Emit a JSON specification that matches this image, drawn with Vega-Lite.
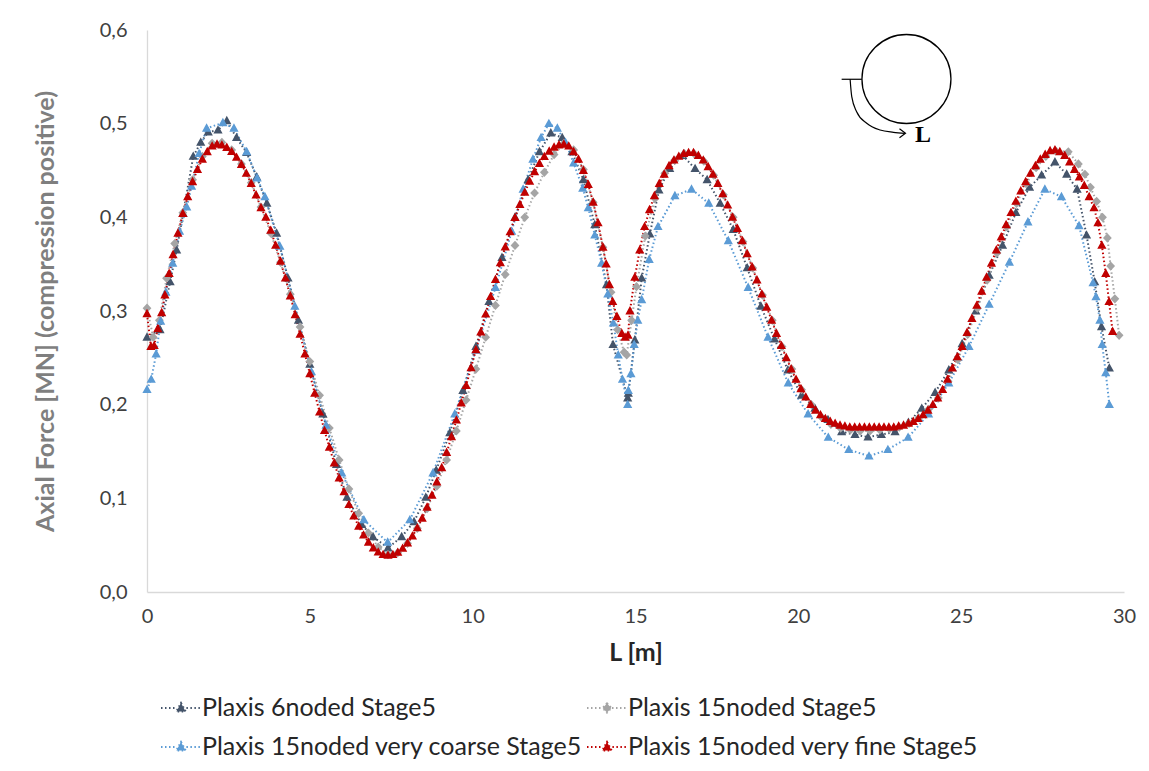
{
"$schema": "https://vega.github.io/schema/vega-lite/v6.json",
"width": 977, "height": 562,
"autosize": {"type": "none"},
"padding": {"left": 147, "top": 30, "right": 25, "bottom": 179},
"background": "white",
"config": {"view": {"stroke": null}, "font": "Lato"},
"datasets": {
"pts": [
{"s":"A","L":0,"v":0.272},{"s":"A","L":0.4,"v":0.28},{"s":"A","L":0.71,"v":0.331},{"s":"A","L":0.91,"v":0.365},{"s":"A","L":1.11,"v":0.404},{"s":"A","L":1.42,"v":0.465},{"s":"A","L":1.65,"v":0.48},{"s":"A","L":1.88,"v":0.491},{"s":"A","L":2.18,"v":0.493},{"s":"A","L":2.45,"v":0.503},{"s":"A","L":2.75,"v":0.485},{"s":"A","L":3.06,"v":0.469},{"s":"A","L":3.37,"v":0.443},{"s":"A","L":3.68,"v":0.415},{"s":"A","L":3.98,"v":0.383},{"s":"A","L":4.33,"v":0.335},{"s":"A","L":4.65,"v":0.29},{"s":"A","L":5.0,"v":0.243},{"s":"A","L":5.4,"v":0.19},{"s":"A","L":5.82,"v":0.136},{"s":"A","L":6.14,"v":0.101},{"s":"A","L":6.59,"v":0.072},{"s":"A","L":6.94,"v":0.059},{"s":"A","L":7.4,"v":0.047},{"s":"A","L":7.82,"v":0.059},{"s":"A","L":8.2,"v":0.075},{"s":"A","L":8.56,"v":0.101},{"s":"A","L":8.88,"v":0.13},{"s":"A","L":9.3,"v":0.17},{"s":"A","L":9.7,"v":0.215},{"s":"A","L":10.1,"v":0.262},{"s":"A","L":10.5,"v":0.31},{"s":"A","L":10.9,"v":0.357},{"s":"A","L":11.3,"v":0.4},{"s":"A","L":11.7,"v":0.44},{"s":"A","L":12.05,"v":0.47},{"s":"A","L":12.4,"v":0.49},{"s":"A","L":12.75,"v":0.485},{"s":"A","L":13.05,"v":0.47},{"s":"A","L":13.4,"v":0.44},{"s":"A","L":13.75,"v":0.392},{"s":"A","L":14.11,"v":0.328},{"s":"A","L":14.31,"v":0.264},{"s":"A","L":14.76,"v":0.207},{"s":"A","L":14.78,"v":0.212},{"s":"A","L":14.98,"v":0.269},{"s":"A","L":15.19,"v":0.335},{"s":"A","L":15.44,"v":0.382},{"s":"A","L":15.72,"v":0.429},{"s":"A","L":16.05,"v":0.452},{"s":"A","L":16.45,"v":0.466},{"s":"A","L":16.83,"v":0.452},{"s":"A","L":17.2,"v":0.44},{"s":"A","L":17.6,"v":0.415},{"s":"A","L":18.0,"v":0.387},{"s":"A","L":18.43,"v":0.346},{"s":"A","L":18.85,"v":0.305},{"s":"A","L":19.27,"v":0.27},{"s":"A","L":19.68,"v":0.237},{"s":"A","L":20.1,"v":0.21},{"s":"A","L":20.51,"v":0.196},{"s":"A","L":20.91,"v":0.184},{"s":"A","L":21.33,"v":0.171},{"s":"A","L":21.74,"v":0.168},{"s":"A","L":22.14,"v":0.1655},{"s":"A","L":22.55,"v":0.168},{"s":"A","L":22.97,"v":0.171},{"s":"A","L":23.38,"v":0.181},{"s":"A","L":23.79,"v":0.196},{"s":"A","L":24.2,"v":0.213},{"s":"A","L":24.62,"v":0.237},{"s":"A","L":25.03,"v":0.265},{"s":"A","L":25.45,"v":0.3},{"s":"A","L":25.86,"v":0.338},{"s":"A","L":26.27,"v":0.37},{"s":"A","L":26.68,"v":0.405},{"s":"A","L":27.1,"v":0.432},{"s":"A","L":27.47,"v":0.445},{"s":"A","L":27.88,"v":0.459},{"s":"A","L":28.24,"v":0.446},{"s":"A","L":28.56,"v":0.43},{"s":"A","L":28.85,"v":0.381},{"s":"A","L":29.1,"v":0.331},{"s":"A","L":29.31,"v":0.283},{"s":"A","L":29.55,"v":0.239},
{"s":"B","L":0,"v":0.303},{"s":"B","L":0.19,"v":0.272},{"s":"B","L":0.38,"v":0.29},{"s":"B","L":0.6,"v":0.335},{"s":"B","L":0.85,"v":0.372},{"s":"B","L":1.1,"v":0.405},{"s":"B","L":1.4,"v":0.44},{"s":"B","L":1.7,"v":0.465},{"s":"B","L":2.0,"v":0.479},{"s":"B","L":2.3,"v":0.48},{"s":"B","L":2.6,"v":0.472},{"s":"B","L":2.9,"v":0.457},{"s":"B","L":3.2,"v":0.437},{"s":"B","L":3.5,"v":0.411},{"s":"B","L":3.8,"v":0.383},{"s":"B","L":4.1,"v":0.352},{"s":"B","L":4.4,"v":0.318},{"s":"B","L":4.7,"v":0.283},{"s":"B","L":5.0,"v":0.246},{"s":"B","L":5.3,"v":0.21},{"s":"B","L":5.6,"v":0.175},{"s":"B","L":5.9,"v":0.141},{"s":"B","L":6.2,"v":0.11},{"s":"B","L":6.5,"v":0.084},{"s":"B","L":6.8,"v":0.063},{"s":"B","L":7.1,"v":0.048},{"s":"B","L":7.4,"v":0.04},{"s":"B","L":7.7,"v":0.042},{"s":"B","L":8.0,"v":0.052},{"s":"B","L":8.3,"v":0.068},{"s":"B","L":8.6,"v":0.089},{"s":"B","L":8.9,"v":0.113},{"s":"B","L":9.2,"v":0.141},{"s":"B","L":9.5,"v":0.172},{"s":"B","L":9.8,"v":0.205},{"s":"B","L":10.1,"v":0.238},{"s":"B","L":10.4,"v":0.272},{"s":"B","L":10.7,"v":0.306},{"s":"B","L":11.0,"v":0.339},{"s":"B","L":11.3,"v":0.37},{"s":"B","L":11.6,"v":0.4},{"s":"B","L":11.9,"v":0.426},{"s":"B","L":12.2,"v":0.448},{"s":"B","L":12.5,"v":0.467},{"s":"B","L":12.8,"v":0.479},{"s":"B","L":13.1,"v":0.472},{"s":"B","L":13.4,"v":0.451},{"s":"B","L":13.7,"v":0.416},{"s":"B","L":14.0,"v":0.368},{"s":"B","L":14.25,"v":0.32},{"s":"B","L":14.45,"v":0.28},{"s":"B","L":14.65,"v":0.256},{"s":"B","L":14.73,"v":0.253},{"s":"B","L":14.88,"v":0.29},{"s":"B","L":15.03,"v":0.326},{"s":"B","L":15.3,"v":0.38},{"s":"B","L":15.6,"v":0.42},{"s":"B","L":15.9,"v":0.447},{"s":"B","L":16.2,"v":0.461},{"s":"B","L":16.5,"v":0.468},{"s":"B","L":16.8,"v":0.468},{"s":"B","L":17.1,"v":0.46},{"s":"B","L":17.4,"v":0.445},{"s":"B","L":17.7,"v":0.424},{"s":"B","L":18.0,"v":0.4},{"s":"B","L":18.3,"v":0.374},{"s":"B","L":18.6,"v":0.346},{"s":"B","L":18.9,"v":0.317},{"s":"B","L":19.2,"v":0.29},{"s":"B","L":19.5,"v":0.262},{"s":"B","L":19.8,"v":0.238},{"s":"B","L":20.1,"v":0.216},{"s":"B","L":20.4,"v":0.2},{"s":"B","L":20.7,"v":0.187},{"s":"B","L":21.0,"v":0.179},{"s":"B","L":21.3,"v":0.175},{"s":"B","L":21.6,"v":0.173},{"s":"B","L":21.9,"v":0.172},{"s":"B","L":22.2,"v":0.172},{"s":"B","L":22.5,"v":0.173},{"s":"B","L":22.8,"v":0.174},{"s":"B","L":23.1,"v":0.176},{"s":"B","L":23.4,"v":0.18},{"s":"B","L":23.7,"v":0.186},{"s":"B","L":24.0,"v":0.195},{"s":"B","L":24.3,"v":0.207},{"s":"B","L":24.6,"v":0.225},{"s":"B","L":24.9,"v":0.248},{"s":"B","L":25.2,"v":0.275},{"s":"B","L":25.5,"v":0.303},{"s":"B","L":25.8,"v":0.333},{"s":"B","L":26.1,"v":0.362},{"s":"B","L":26.4,"v":0.39},{"s":"B","L":26.7,"v":0.415},{"s":"B","L":27.0,"v":0.436},{"s":"B","L":27.3,"v":0.453},{"s":"B","L":27.6,"v":0.465},{"s":"B","L":27.9,"v":0.471},{"s":"B","L":28.29,"v":0.47},{"s":"B","L":28.6,"v":0.457},{"s":"B","L":28.8,"v":0.446},{"s":"B","L":28.97,"v":0.432},{"s":"B","L":29.16,"v":0.417},{"s":"B","L":29.34,"v":0.4},{"s":"B","L":29.49,"v":0.378},{"s":"B","L":29.59,"v":0.348},{"s":"B","L":29.72,"v":0.313},{"s":"B","L":29.85,"v":0.274},
{"s":"C","L":0,"v":0.216},{"s":"C","L":0.13,"v":0.227},{"s":"C","L":0.28,"v":0.254},{"s":"C","L":0.42,"v":0.289},{"s":"C","L":0.58,"v":0.32},{"s":"C","L":0.79,"v":0.351},{"s":"C","L":1.0,"v":0.385},{"s":"C","L":1.22,"v":0.411},{"s":"C","L":1.37,"v":0.433},{"s":"C","L":1.6,"v":0.468},{"s":"C","L":1.83,"v":0.495},{"s":"C","L":2.33,"v":0.501},{"s":"C","L":2.67,"v":0.495},{"s":"C","L":3.06,"v":0.47},{"s":"C","L":3.38,"v":0.442},{"s":"C","L":3.62,"v":0.422},{"s":"C","L":4.08,"v":0.369},{"s":"C","L":4.54,"v":0.305},{"s":"C","L":5.05,"v":0.235},{"s":"C","L":5.5,"v":0.178},{"s":"C","L":5.98,"v":0.127},{"s":"C","L":6.66,"v":0.077},{"s":"C","L":7.39,"v":0.053},{"s":"C","L":8.07,"v":0.077},{"s":"C","L":8.78,"v":0.127},{"s":"C","L":9.45,"v":0.19},{"s":"C","L":10.1,"v":0.258},{"s":"C","L":10.7,"v":0.325},{"s":"C","L":11.2,"v":0.385},{"s":"C","L":11.55,"v":0.43},{"s":"C","L":11.85,"v":0.462},{"s":"C","L":12.1,"v":0.485},{"s":"C","L":12.34,"v":0.5},{"s":"C","L":12.6,"v":0.495},{"s":"C","L":12.85,"v":0.48},{"s":"C","L":13.1,"v":0.458},{"s":"C","L":13.38,"v":0.431},{"s":"C","L":13.55,"v":0.41},{"s":"C","L":13.75,"v":0.381},{"s":"C","L":13.96,"v":0.351},{"s":"C","L":14.15,"v":0.318},{"s":"C","L":14.32,"v":0.287},{"s":"C","L":14.47,"v":0.253},{"s":"C","L":14.6,"v":0.227},{"s":"C","L":14.76,"v":0.2},{"s":"C","L":14.78,"v":0.215},{"s":"C","L":14.86,"v":0.233},{"s":"C","L":14.96,"v":0.264},{"s":"C","L":15.07,"v":0.29},{"s":"C","L":15.19,"v":0.312},{"s":"C","L":15.42,"v":0.355},{"s":"C","L":15.69,"v":0.39},{"s":"C","L":16.21,"v":0.423},{"s":"C","L":16.72,"v":0.43},{"s":"C","L":17.25,"v":0.415},{"s":"C","L":17.85,"v":0.375},{"s":"C","L":18.46,"v":0.325},{"s":"C","L":19.07,"v":0.272},{"s":"C","L":19.69,"v":0.223},{"s":"C","L":20.3,"v":0.19},{"s":"C","L":20.92,"v":0.165},{"s":"C","L":21.55,"v":0.152},{"s":"C","L":22.17,"v":0.145},{"s":"C","L":22.75,"v":0.152},{"s":"C","L":23.37,"v":0.165},{"s":"C","L":24.0,"v":0.19},{"s":"C","L":24.62,"v":0.223},{"s":"C","L":25.24,"v":0.262},{"s":"C","L":25.86,"v":0.307},{"s":"C","L":26.48,"v":0.352},{"s":"C","L":27.05,"v":0.395},{"s":"C","L":27.57,"v":0.43},{"s":"C","L":28.08,"v":0.422},{"s":"C","L":28.62,"v":0.391},{"s":"C","L":29.05,"v":0.33},{"s":"C","L":29.14,"v":0.315},{"s":"C","L":29.26,"v":0.29},{"s":"C","L":29.33,"v":0.264},{"s":"C","L":29.44,"v":0.234},{"s":"C","L":29.55,"v":0.2},
{"s":"D","L":0,"v":0.297},{"s":"D","L":0.12,"v":0.262},{"s":"D","L":0.22,"v":0.263},{"s":"D","L":0.33,"v":0.281},{"s":"D","L":0.45,"v":0.298},{"s":"D","L":0.55,"v":0.317},{"s":"D","L":0.68,"v":0.34},{"s":"D","L":0.8,"v":0.36},{"s":"D","L":0.95,"v":0.383},{"s":"D","L":1.1,"v":0.404},{"s":"D","L":1.25,"v":0.422},{"s":"D","L":1.4,"v":0.438},{"s":"D","L":1.55,"v":0.451},{"s":"D","L":1.7,"v":0.462},{"s":"D","L":1.85,"v":0.47},{"s":"D","L":2.0,"v":0.476},{"s":"D","L":2.15,"v":0.478},{"s":"D","L":2.3,"v":0.477},{"s":"D","L":2.45,"v":0.4745},{"s":"D","L":2.6,"v":0.4701},{"s":"D","L":2.75,"v":0.464},{"s":"D","L":2.9,"v":0.4563},{"s":"D","L":3.05,"v":0.4469},{"s":"D","L":3.2,"v":0.4361},{"s":"D","L":3.35,"v":0.4238},{"s":"D","L":3.5,"v":0.4102},{"s":"D","L":3.65,"v":0.4},{"s":"D","L":3.8,"v":0.386},{"s":"D","L":3.95,"v":0.37},{"s":"D","L":4.1,"v":0.353},{"s":"D","L":4.25,"v":0.335},{"s":"D","L":4.4,"v":0.316},{"s":"D","L":4.55,"v":0.296},{"s":"D","L":4.7,"v":0.275},{"s":"D","L":4.85,"v":0.254},{"s":"D","L":5.0,"v":0.233},{"s":"D","L":5.15,"v":0.212},{"s":"D","L":5.3,"v":0.192},{"s":"D","L":5.45,"v":0.1722},{"s":"D","L":5.6,"v":0.1545},{"s":"D","L":5.75,"v":0.1376},{"s":"D","L":5.9,"v":0.1216},{"s":"D","L":6.05,"v":0.1068},{"s":"D","L":6.2,"v":0.0932},{"s":"D","L":6.35,"v":0.0809},{"s":"D","L":6.5,"v":0.0701},{"s":"D","L":6.65,"v":0.0607},{"s":"D","L":6.8,"v":0.053},{"s":"D","L":6.95,"v":0.0469},{"s":"D","L":7.1,"v":0.0425},{"s":"D","L":7.25,"v":0.0399},{"s":"D","L":7.4,"v":0.039},{"s":"D","L":7.55,"v":0.0398},{"s":"D","L":7.7,"v":0.0423},{"s":"D","L":7.85,"v":0.0465},{"s":"D","L":8.0,"v":0.0522},{"s":"D","L":8.15,"v":0.0596},{"s":"D","L":8.3,"v":0.0684},{"s":"D","L":8.45,"v":0.0787},{"s":"D","L":8.6,"v":0.0904},{"s":"D","L":8.75,"v":0.1033},{"s":"D","L":8.9,"v":0.1174},{"s":"D","L":9.05,"v":0.1326},{"s":"D","L":9.2,"v":0.1488},{"s":"D","L":9.35,"v":0.1657},{"s":"D","L":9.5,"v":0.1834},{"s":"D","L":9.65,"v":0.2017},{"s":"D","L":9.8,"v":0.2204},{"s":"D","L":9.95,"v":0.2394},{"s":"D","L":10.1,"v":0.2585},{"s":"D","L":10.25,"v":0.2776},{"s":"D","L":10.4,"v":0.2966},{"s":"D","L":10.55,"v":0.3153},{"s":"D","L":10.7,"v":0.3336},{"s":"D","L":10.85,"v":0.3513},{"s":"D","L":11.0,"v":0.3683},{"s":"D","L":11.15,"v":0.3844},{"s":"D","L":11.3,"v":0.3996},{"s":"D","L":11.45,"v":0.4137},{"s":"D","L":11.6,"v":0.4266},{"s":"D","L":11.75,"v":0.4383},{"s":"D","L":11.9,"v":0.4486},{"s":"D","L":12.05,"v":0.4574},{"s":"D","L":12.2,"v":0.4648},{"s":"D","L":12.35,"v":0.4705},{"s":"D","L":12.5,"v":0.4747},{"s":"D","L":12.65,"v":0.4772},{"s":"D","L":12.8,"v":0.478},{"s":"D","L":12.95,"v":0.476},{"s":"D","L":13.1,"v":0.47},{"s":"D","L":13.25,"v":0.462},{"s":"D","L":13.4,"v":0.45},{"s":"D","L":13.55,"v":0.435},{"s":"D","L":13.7,"v":0.416},{"s":"D","L":13.85,"v":0.394},{"s":"D","L":14.0,"v":0.368},{"s":"D","L":14.1,"v":0.35},{"s":"D","L":14.2,"v":0.328},{"s":"D","L":14.3,"v":0.31},{"s":"D","L":14.43,"v":0.294},{"s":"D","L":14.58,"v":0.276},{"s":"D","L":14.68,"v":0.272},{"s":"D","L":14.77,"v":0.274},{"s":"D","L":14.83,"v":0.3},{"s":"D","L":14.98,"v":0.336},{"s":"D","L":15.13,"v":0.365},{"s":"D","L":15.28,"v":0.39},{"s":"D","L":15.43,"v":0.408},{"s":"D","L":15.58,"v":0.423},{"s":"D","L":15.73,"v":0.436},{"s":"D","L":15.88,"v":0.446},{"s":"D","L":16.03,"v":0.455},{"s":"D","L":16.18,"v":0.461},{"s":"D","L":16.33,"v":0.465},{"s":"D","L":16.48,"v":0.468},{"s":"D","L":16.63,"v":0.469},{"s":"D","L":16.78,"v":0.469},{"s":"D","L":16.93,"v":0.466},{"s":"D","L":17.08,"v":0.461},{"s":"D","L":17.23,"v":0.454},{"s":"D","L":17.38,"v":0.446},{"s":"D","L":17.53,"v":0.436},{"s":"D","L":17.68,"v":0.425},{"s":"D","L":17.83,"v":0.413},{"s":"D","L":17.98,"v":0.4},{"s":"D","L":18.13,"v":0.388},{"s":"D","L":18.28,"v":0.375},{"s":"D","L":18.43,"v":0.361},{"s":"D","L":18.58,"v":0.347},{"s":"D","L":18.73,"v":0.333},{"s":"D","L":18.88,"v":0.318},{"s":"D","L":19.03,"v":0.304},{"s":"D","L":19.18,"v":0.29},{"s":"D","L":19.33,"v":0.276},{"s":"D","L":19.48,"v":0.263},{"s":"D","L":19.63,"v":0.25},{"s":"D","L":19.78,"v":0.238},{"s":"D","L":19.93,"v":0.227},{"s":"D","L":20.08,"v":0.217},{"s":"D","L":20.23,"v":0.208},{"s":"D","L":20.38,"v":0.2},{"s":"D","L":20.53,"v":0.194},{"s":"D","L":20.68,"v":0.189},{"s":"D","L":20.83,"v":0.185},{"s":"D","L":20.98,"v":0.182},{"s":"D","L":21.13,"v":0.18},{"s":"D","L":21.28,"v":0.178},{"s":"D","L":21.43,"v":0.177},{"s":"D","L":21.58,"v":0.176},{"s":"D","L":21.73,"v":0.176},{"s":"D","L":21.88,"v":0.176},{"s":"D","L":22.03,"v":0.176},{"s":"D","L":22.18,"v":0.176},{"s":"D","L":22.33,"v":0.176},{"s":"D","L":22.48,"v":0.176},{"s":"D","L":22.63,"v":0.176},{"s":"D","L":22.78,"v":0.176},{"s":"D","L":22.93,"v":0.176},{"s":"D","L":23.08,"v":0.177},{"s":"D","L":23.23,"v":0.178},{"s":"D","L":23.38,"v":0.18},{"s":"D","L":23.53,"v":0.182},{"s":"D","L":23.68,"v":0.185},{"s":"D","L":23.83,"v":0.189},{"s":"D","L":23.98,"v":0.194},{"s":"D","L":24.13,"v":0.2},{"s":"D","L":24.28,"v":0.207},{"s":"D","L":24.43,"v":0.216},{"s":"D","L":24.58,"v":0.227},{"s":"D","L":24.73,"v":0.239},{"s":"D","L":24.88,"v":0.251},{"s":"D","L":25.03,"v":0.262},{"s":"D","L":25.18,"v":0.277},{"s":"D","L":25.33,"v":0.292},{"s":"D","L":25.48,"v":0.306},{"s":"D","L":25.63,"v":0.321},{"s":"D","L":25.78,"v":0.336},{"s":"D","L":25.93,"v":0.351},{"s":"D","L":26.08,"v":0.365},{"s":"D","L":26.23,"v":0.379},{"s":"D","L":26.38,"v":0.392},{"s":"D","L":26.53,"v":0.405},{"s":"D","L":26.68,"v":0.417},{"s":"D","L":26.83,"v":0.428},{"s":"D","L":26.98,"v":0.438},{"s":"D","L":27.13,"v":0.447},{"s":"D","L":27.28,"v":0.455},{"s":"D","L":27.43,"v":0.462},{"s":"D","L":27.58,"v":0.467},{"s":"D","L":27.73,"v":0.471},{"s":"D","L":27.88,"v":0.472},{"s":"D","L":28.03,"v":0.47},{"s":"D","L":28.18,"v":0.466},{"s":"D","L":28.33,"v":0.459},{"s":"D","L":28.48,"v":0.451},{"s":"D","L":28.63,"v":0.443},{"s":"D","L":28.78,"v":0.434},{"s":"D","L":28.93,"v":0.422},{"s":"D","L":29.08,"v":0.41},{"s":"D","L":29.2,"v":0.394},{"s":"D","L":29.32,"v":0.37},{"s":"D","L":29.44,"v":0.34},{"s":"D","L":29.54,"v":0.31},{"s":"D","L":29.65,"v":0.278}
]
},
"layer": [
{
"data": {"name": "pts"},
"mark": {"type": "line", "strokeWidth": 2, "strokeDash": [1.5, 2.5]},
"encoding": {
"x": {"field": "L", "type": "quantitative", "scale": {"domain": [0, 30], "nice": false, "zero": false},
 "axis": {"values": [0, 5, 10, 15, 20, 25, 30], "grid": false, "ticks": false, "domainColor": "#D9D9D9", "domainWidth": 1.3, "labelFont": "Lato", "labelFontSize": 20, "labelColor": "#404040", "labelPadding": 14, "labelFlush": false, "title": "L [m]", "titleFont": "Lato", "titleFontSize": 25, "titleFontWeight": "bold", "titleColor": "#262626", "titleX": 488.5, "titleY": 60, "titleBaseline": "middle"}},
"y": {"field": "v", "type": "quantitative", "scale": {"domain": [0, 0.6], "nice": false},
 "axis": {"values": [0, 0.1, 0.2, 0.3, 0.4, 0.5, 0.6], "labelExpr": "replace(format(datum.value, '.1f'), '.', ',')", "grid": false, "ticks": false, "domainColor": "#D9D9D9", "domainWidth": 1.3, "labelFont": "Lato", "labelFontSize": 20, "labelColor": "#404040", "labelPadding": 20, "labelFlush": false, "title": "Axial Force [MN] (compression positive)", "titleFont": "Lato", "titleFontSize": 25, "titleFontWeight": "bold", "titleColor": "#7F7F7F", "titleAngle": 270, "titleX": -102, "titleY": 281, "titleBaseline": "middle", "titleAlign": "center"}},
"color": {"field": "s", "type": "nominal",
 "scale": {"domain": ["A", "B", "C", "D"], "range": ["#44546A", "#A5A5A5", "#5B9BD5", "#C00000"]},
 "legend": {"orient": "none", "legendX": 13, "legendY": 657, "direction": "horizontal", "columns": 2, "title": null,
  "labelExpr": "{'A': 'Plaxis 6noded Stage5', 'B': 'Plaxis 15noded Stage5', 'C': 'Plaxis 15noded very coarse Stage5', 'D': 'Plaxis 15noded very fine Stage5'}[datum.value]",
  "labelFont": "Lato", "labelFontSize": 25, "labelColor": "#262626", "labelLimit": 600, "symbolSize": 1600, "labelOffset": 0, "rowPadding": 5, "columnPadding": 0, "padding": 0,
  "symbolStrokeWidth": 2, "symbolDash": [1.5, 2.5], "symbolOpacity": 1}
}
}
},
{
"data": {"name": "pts"},
"mark": {"type": "point", "filled": true, "opacity": 1, "size": 1600, "strokeWidth": 0},
"encoding": {
"x": {"field": "L", "type": "quantitative"},
"y": {"field": "v", "type": "quantitative"},
"color": {"field": "s", "type": "nominal"},
"shape": {"field": "s", "type": "nominal", "scale": {"domain": ["A", "B", "C", "D"], "range": ["M-1,0L-0.27,0M0.27,0L1,0M0,-0.25L0.23,0.17L-0.23,0.17Z", "M-1,0L-0.25,0M0.25,0L1,0M0,-0.23L0.22,0L0,0.23L-0.22,0Z", "M-1,0L-0.27,0M0.27,0L1,0M0,-0.25L0.23,0.17L-0.23,0.17Z", "M-1,0L-0.27,0M0.27,0L1,0M0,-0.25L0.23,0.17L-0.23,0.17Z"]}}
}
},
{
"data": {"values": [{"L": 23.32, "v": 0.5477}]},
"mark": {"type": "point", "shape": "circle", "filled": false, "size": 7921, "stroke": "#000000", "strokeWidth": 1.3, "opacity": 1},
"encoding": {"x": {"field": "L", "type": "quantitative"}, "y": {"field": "v", "type": "quantitative"}}
},
{
"data": {"values": [{"L": 21.33, "L2": 21.95, "v": 0.5474}]},
"mark": {"type": "rule", "stroke": "#000000", "strokeWidth": 1.2},
"encoding": {"x": {"field": "L", "type": "quantitative"}, "x2": {"field": "L2"}, "y": {"field": "v", "type": "quantitative"}}
},
{
"data": {"values": [{"L": 21.59, "v": 0.5474}, {"L": 21.64, "v": 0.5288}, {"L": 21.79, "v": 0.5128}, {"L": 22.1, "v": 0.5004}, {"L": 22.51, "v": 0.4932}, {"L": 22.92, "v": 0.4908}, {"L": 23.27, "v": 0.4897}]},
"mark": {"type": "line", "interpolate": "monotone", "stroke": "#000000", "strokeWidth": 1.2},
"encoding": {"x": {"field": "L", "type": "quantitative"}, "y": {"field": "v", "type": "quantitative"}}
},
{
"data": {"values": [{"L": 23.29, "v": 0.4897}]},
"mark": {"type": "point", "shape": "M-1,-0.75L0,0L-1,0.75", "filled": false, "size": 144, "stroke": "#000000", "strokeWidth": 1.2, "opacity": 1},
"encoding": {"x": {"field": "L", "type": "quantitative"}, "y": {"field": "v", "type": "quantitative"}}
},
{
"data": {"values": [{"L": 23.83, "v": 0.4884, "t": "L"}]},
"mark": {"type": "text", "font": "Liberation Serif", "fontWeight": "bold", "fontSize": 24, "color": "#000000", "align": "center", "baseline": "middle"},
"encoding": {"x": {"field": "L", "type": "quantitative"}, "y": {"field": "v", "type": "quantitative"}, "text": {"field": "t"}}
}
]
}
